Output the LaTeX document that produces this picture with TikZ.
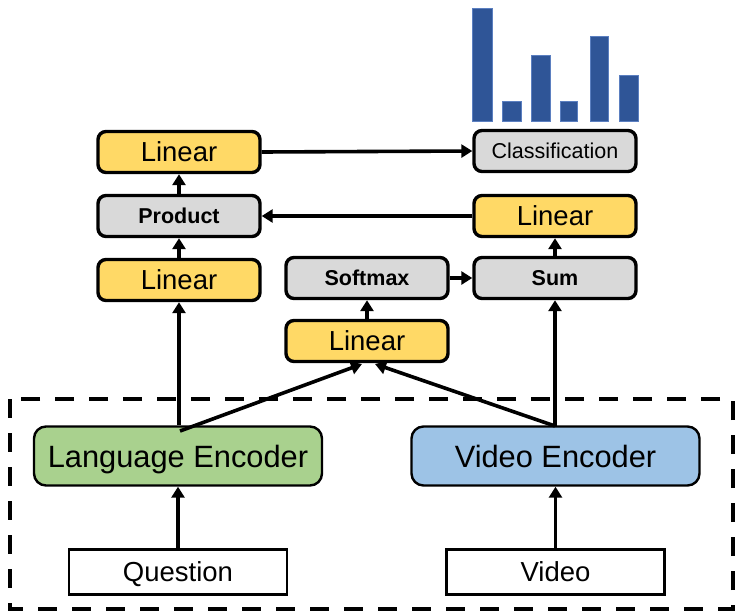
\documentclass[tikz,border=0pt]{standalone}
\usepackage{fontspec}
\setmainfont{Liberation Sans}
\usetikzlibrary{arrows.meta}
\definecolor{yel}{HTML}{FFD966}
\definecolor{gry}{HTML}{D9D9D9}
\definecolor{grn}{HTML}{A9D18E}
\definecolor{blu}{HTML}{9DC3E6}
\definecolor{bar}{HTML}{2F5597}
\definecolor{barline}{HTML}{5B7FC0}
\tikzset{
  box/.style={draw=black, line width=3.4pt, rounded corners=8pt, minimum width=162pt, minimum height=41pt, inner sep=0pt},
  linbox/.style={box, fill=yel, font=\fontsize{27.5}{30}\selectfont},
  opbox/.style={box, fill=gry, font=\fontsize{21.5}{24}\selectfont\bfseries},
  clsbox/.style={box, fill=gry, font=\fontsize{21.5}{24}\selectfont, text depth=0pt},
  encbox/.style={draw=black, line width=2.4pt, rounded corners=12pt, minimum width=288pt, minimum height=59pt, inner sep=0pt, text depth=0pt, font=\fontsize{30.8}{34}\selectfont},
  inbox/.style={draw=black, line width=2.4pt, minimum width=218pt, minimum height=45pt, inner sep=0pt, text depth=0pt, font=\fontsize{27.5}{30}\selectfont},
  arr/.style={line width=3.6pt, -{Triangle[length=11pt,width=13pt]}},
  hbar/.style={fill=bar, draw=barline, line width=0.8pt}
}
\begin{document}
\begin{tikzpicture}[x=1pt,y=-1pt]
\useasboundingbox (0,0) rectangle (735,613);

% encoder group
\draw[line width=4.2pt, dash pattern=on 19pt off 15pt] (10,399) rectangle (733,609);

% output histogram
\foreach \xl/\xr/\top in {472/492/8, 502/521/101, 531/550/55, 560/577/101, 590/608/36, 619/638/75}
  \draw[hbar] (\xl,121) rectangle (\xr,\top);

% nodes
\node[linbox] (linTop) at (179,152) {Linear};
\node[opbox]  (prod)   at (179,216) {Product};
\node[linbox] (linL)   at (179,280) {Linear};
\node[opbox]  (soft)   at (367,278) {Softmax};
\node[opbox]  (sum)    at (555,278) {Sum};
\node[linbox] (linR)   at (555,216) {Linear};
\node[linbox] (linM)   at (367,341) {Linear};
\node[clsbox] (cls)    at (555,151) {Classification};
\node[encbox, fill=grn] (lang) at (178,456) {Language Encoder};
\node[encbox, fill=blu] (venc) at (555.5,456) {Video Encoder};
\node[inbox] (quest) at (178,572) {Question};
\node[inbox] (vid)   at (555.5,572) {Video};

% attention fan-in points
\coordinate (langTap) at (180,431);
\coordinate (vencTap) at (555,426);
\coordinate (inL) at (362,364);
\coordinate (inR) at (375,364);

% connectors
\draw[arr] (quest.north) -- (lang.south);
\draw[arr] (vid.north) -- (venc.south);
\draw[arr] (179,425 |- lang.north) -- (linL.south);
\draw[arr] (langTap) -- (inL);
\draw[arr] (vencTap) -- (inR);
\draw[arr] (vencTap) -- (sum.south);
\draw[arr] (linM.north) -- (soft.south);
\draw[arr] (soft.east) -- (sum.west);
\draw[arr] (sum.north) -- (linR.south);
\draw[arr] (linR.west) -- (prod.east);
\draw[arr] (linL.north) -- (prod.south);
\draw[arr] (prod.north) -- (linTop.south);
\draw[arr] (linTop.east) -- (cls.west);
\end{tikzpicture}
\end{document}
